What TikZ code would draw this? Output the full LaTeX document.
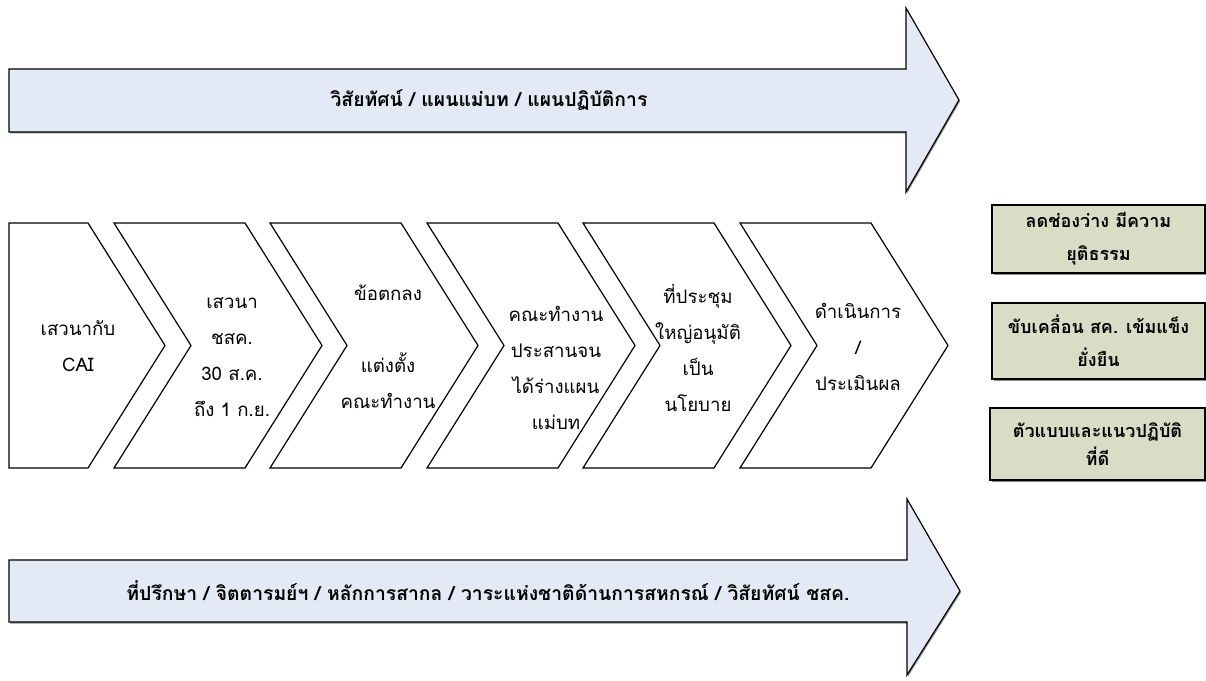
\documentclass[tikz,border=0pt]{standalone}
\usepackage{fontspec}
\setmainfont[Script=Thai]{Loma}
\definecolor{arrowfill}{HTML}{E4EAF5}
\definecolor{boxfill}{HTML}{D9DDC5}
\definecolor{shadowgray}{HTML}{8C8C8C}
\begin{document}
\begin{tikzpicture}[x=0.75pt,y=-0.75pt,
  outline/.style={draw=black,line width=0.9pt,line join=miter},
  bigarrow/.style={outline,fill=arrowfill},
  chev/.style={outline,fill=white},
  shade/.style={fill=shadowgray,draw=none},
  arrowtext/.style={font=\fontsize{14.5}{16}\selectfont\bfseries,inner sep=0pt},
  chevtext/.style={font=\fontsize{14}{27}\selectfont,align=center,inner sep=0pt},
  resultbox/.style={outline,fill=boxfill,minimum width=213*0.75pt,align=center,
     font=\fontsize{13.5}{25}\selectfont\bfseries,inner sep=0pt}]
\useasboundingbox (0,0) rectangle (1206,681);
% top arrow
\fill[shade] (10,70.5) -- (907,70.5) -- (907,9.5) -- (960,101.5) -- (907,193.5) -- (907,133.5) -- (10,133.5) -- cycle;
\draw[bigarrow] (9,69) -- (906,69) -- (906,8) -- (959,100) -- (906,192) -- (906,132) -- (9,132) -- cycle;
\node[arrowtext] (toptext) at (489,100) {วิสัยทัศน์ / แผนแม่บท / แผนปฏิบัติการ};
% bottom arrow
\fill[shade] (10,561.5) -- (908,561.5) -- (908,500.5) -- (961,592.5) -- (908,676.5) -- (908,623.5) -- (10,623.5) -- cycle;
\draw[bigarrow] (9,560) -- (907,560) -- (907,499) -- (960,591) -- (907,675) -- (907,622) -- (9,622) -- cycle;
\node[arrowtext] (bottext) at (488,591) {ที่ปรึกษา / จิตตารมย์ฯ / หลักการสากล / วาระแห่งชาติด้านการสหกรณ์ / วิสัยทัศน์ ชสค.};
% chevrons
\draw[chev] (9,223) -- (88,223) -- (165,345.5) -- (88,468) -- (9,468) -- cycle;
\foreach \L in {114,270,427,583,740}{
  \draw[chev] (\L,223) -- (\L+131,223) -- (\L+208,345.5) -- (\L+131,468) -- (\L,468) -- (\L+77,345.5) -- cycle;
}
\node[chevtext] (c1) at (78,346) {เสวนากับ\\CAI};
\node[chevtext] (c2) at (232,357) {เสวนา\\ชสค.\\30 ส.ค.\\ถึง 1 ก.ย.};
\node[chevtext] (c3) at (388,347) {ข้อตกลง\\[27pt]แต่งตั้ง\\คณะทำงาน};
\node[chevtext] (c4) at (556,368) {คณะทำงาน\\ประสานจน\\ได้ร่างแผน\\แม่บท};
\node[chevtext] (c5) at (698,348) {ที่ประชุม\\ใหญ่อนุมัติ\\เป็น\\นโยบาย};
\node[chevtext] (c6) at (858,347) {ดำเนินการ\\/\\ประเมินผล};
% result boxes
\fill[shade] (993.5,206.5) rectangle (1206,275);
\node[resultbox,minimum height=68*0.75pt] (r1) at (1098.5,239) {ลดช่องว่าง มีความ\\ยุติธรรม};
\fill[shade] (993.5,304.5) rectangle (1206,381);
\node[resultbox,minimum height=76*0.75pt] (r2) at (1098.5,341) {ขับเคลื่อน สค. เข้มแข็ง\\ยั่งยืน};
\fill[shade] (991.5,409.5) rectangle (1206,482);
\node[resultbox,minimum height=72*0.75pt,minimum width=215*0.75pt,font=\fontsize{13.5}{21}\selectfont\bfseries] (r3) at (1097.5,444) {ตัวแบบและแนวปฏิบัติ\\ที่ดี};
\end{tikzpicture}
\end{document}
